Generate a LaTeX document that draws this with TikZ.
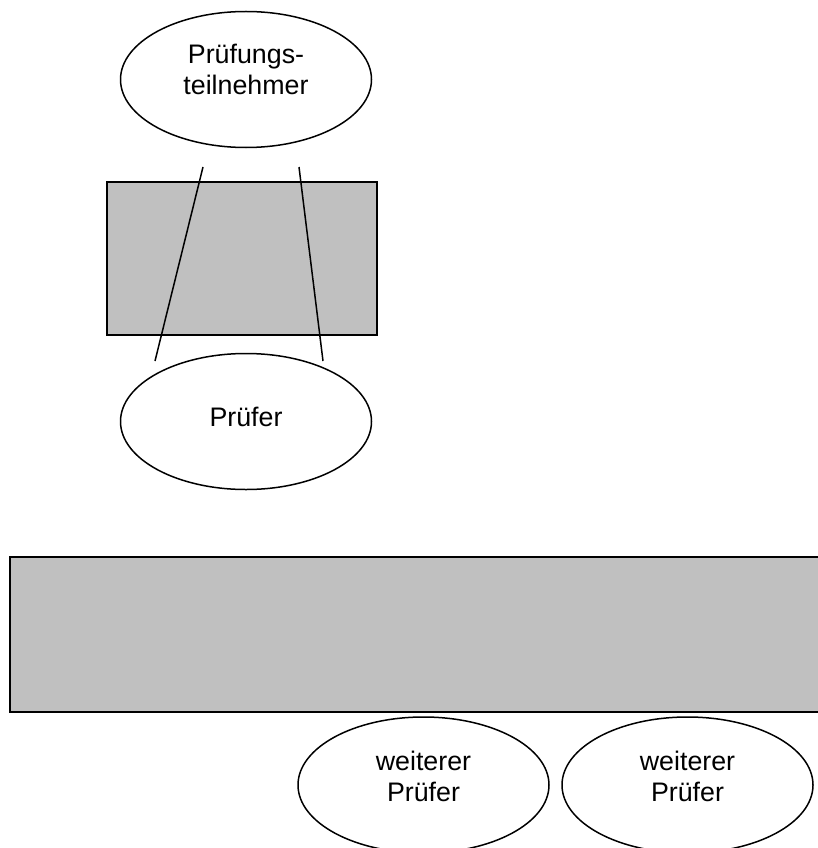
\documentclass[tikz,border=0pt]{standalone}
\usepackage{fontspec}
\setmainfont{Liberation Sans}
\usetikzlibrary{shapes.geometric}
\definecolor{boxgray}{RGB}{192,192,192}
\begin{document}
\begin{tikzpicture}[x=1pt,y=-1pt,
  oval/.style={draw=black,line width=1.5pt,ellipse,fill=white,minimum width=251pt,minimum height=136pt,inner sep=0pt,align=center,font=\fontsize{26.8}{31}\selectfont},
  graybox/.style={draw=black,line width=2pt,fill=boxgray},
  link/.style={draw=black,line width=1.5pt}]
\useasboundingbox (0,0) rectangle (818,848);
\clip (0,0) rectangle (818,848);
\node[oval,text depth=20pt] (tn) at (246,79.5) {Prüfungs-\\teilnehmer};
\path[graybox] (107,182) rectangle (377,335);
\node[oval,text depth=9pt] (pr) at (246,421.5) {Prüfer};
\coordinate (l1) at (203,167);
\coordinate (l2) at (155,361);
\coordinate (r1) at (299,167);
\coordinate (r2) at (323,361);
\draw[link] (l1) -- (l2);
\draw[link] (r1) -- (r2);
\path[graybox] (10,557) rectangle (840,712);
\node[oval,text depth=18pt] (w1) at (423.5,785) {weiterer\\Prüfer};
\node[oval,text depth=18pt] (w2) at (687.5,785) {weiterer\\Prüfer};
\end{tikzpicture}
\end{document}
